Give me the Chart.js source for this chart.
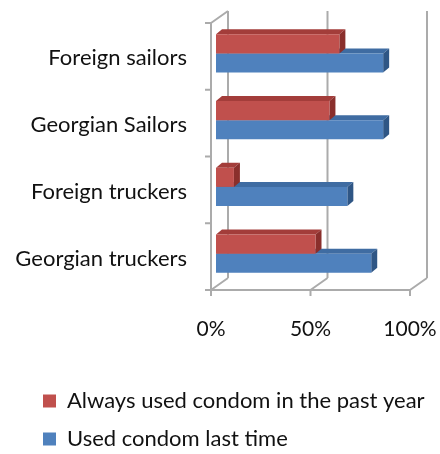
<!DOCTYPE html>
<html>
<head>
<meta charset="utf-8">
<script src="https://cdn.jsdelivr.net/npm/chart.js"></script>
<style>
  html, body { margin: 0; padding: 0; background: #fff; }
  #wrap { width: 440px; height: 454px; }
</style>
</head>
<body>
<div id="wrap"><canvas id="myChart" width="440" height="454"></canvas></div>
<script>
// data
var groups = ['Foreign sailors', 'Georgian Sailors', 'Foreign truckers', 'Georgian truckers'];
var alwaysUsed = [62, 57, 9, 50];
var usedLastTime = [84, 84, 66, 78];
var seriesNames = ['Always used condom in the past year', 'Used condom last time'];
var xTicks = [0, 50, 100];

var colors = ['#C0504D', '#4F81BD'];
var faceColors = [
  {top: '#a33d3a', side: '#8a2f2c'},
  {top: '#3f6ca2', side: '#2f5685'}
];
var depth = {dx: 17, dy: -12};     // back wall offset
var barShift = {dx: 5, dy: -3};    // bars sit a bit behind the front plane
var barDepth = {dx: 6, dy: -5};    // thickness of the bars
var fontName = 'Lato, "Open Sans", sans-serif';

// fake 3D box + bar faces, Excel style
var box3d = {
  id: 'box3d',
  afterLayout: function(chart) {
    // long category label would get clipped at the layout padding otherwise
    chart.scales.y.left = 0;
  },
  beforeDatasetsDraw: function(chart) {
    var ctx = chart.ctx, xs = chart.scales.x, ys = chart.scales.y, a = chart.chartArea;
    ctx.save();
    ctx.strokeStyle = '#ababab';
    ctx.lineWidth = 2;
    ctx.beginPath();
    xTicks.forEach(function(v) {
      var px = xs.getPixelForValue(v);
      ctx.moveTo(px + depth.dx, a.top + depth.dy);
      ctx.lineTo(px + depth.dx, a.bottom + depth.dy);
      ctx.moveTo(px, a.bottom);
      ctx.lineTo(px + depth.dx, a.bottom + depth.dy);
      ctx.moveTo(px, a.bottom);
      ctx.lineTo(px, a.bottom + 6);
    });
    ctx.moveTo(a.left, a.top);
    ctx.lineTo(a.left + depth.dx, a.top + depth.dy);
    ctx.moveTo(a.left, a.top);
    ctx.lineTo(a.left, a.bottom);
    ctx.lineTo(a.right, a.bottom);
    for (var i = 0; i <= groups.length; i++) {
      var py = ys.getPixelForValue(i - 0.5);
      ctx.moveTo(a.left - 6, py);
      ctx.lineTo(a.left, py);
    }
    ctx.stroke();
    ctx.restore();

    ctx.save();
    ctx.translate(barShift.dx, barShift.dy);
    for (var d = chart.data.datasets.length - 1; d >= 0; d--) {
      chart.getDatasetMeta(d).data.forEach(function(bar) {
        var p = bar.getProps(['x', 'y', 'base', 'height'], true);
        var top = p.y - p.height / 2, bot = p.y + p.height / 2;
        ctx.fillStyle = faceColors[d].top;
        ctx.beginPath();
        ctx.moveTo(p.base, top);
        ctx.lineTo(p.x, top);
        ctx.lineTo(p.x + barDepth.dx, top + barDepth.dy);
        ctx.lineTo(p.base + barDepth.dx, top + barDepth.dy);
        ctx.closePath();
        ctx.fill();
        ctx.fillStyle = faceColors[d].side;
        ctx.beginPath();
        ctx.moveTo(p.x, top);
        ctx.lineTo(p.x + barDepth.dx, top + barDepth.dy);
        ctx.lineTo(p.x + barDepth.dx, bot + barDepth.dy);
        ctx.lineTo(p.x, bot);
        ctx.closePath();
        ctx.fill();
      });
    }
    // stays translated while chart.js draws the front faces
  },
  afterDatasetsDraw: function(chart) {
    chart.ctx.restore();
  }
};

var ctx = document.getElementById('myChart');
new Chart(ctx, {
  type: 'bar',
  data: {
    labels: groups,
    datasets: [{
      label: seriesNames[0],
      data: alwaysUsed,
      backgroundColor: colors[0],
      borderColor: colors[0],
      borderWidth: 0
    }, {
      label: seriesNames[1],
      data: usedLastTime,
      backgroundColor: colors[1],
      borderColor: colors[1],
      borderWidth: 0
    }]
  },
  options: {
    indexAxis: 'y',
    responsive: false,
    animation: false,
    categoryPercentage: 0.57,
    barPercentage: 1,
    layout: { padding: { left: 27, top: 23, right: 0, bottom: 0 } },
    scales: {
      x: {
        min: 0,
        max: 100,
        grid: { display: false, drawTicks: false },
        border: { display: false },
        afterBuildTicks: function(scale) {
          scale.ticks = xTicks.map(function(v) { return {value: v}; });
        },
        afterFit: function(scale) {
          scale.height = 84;
          scale.paddingRight = 30;
        },
        ticks: {
          padding: 27,
          color: '#111',
          font: { family: fontName, size: 21 },
          callback: function(v) { return v + '%'; }
        }
      },
      y: {
        grid: { display: false, drawTicks: false },
        border: { display: false },
        afterFit: function(scale) {
          scale.width = 184;
          scale.paddingTop = 0;
          scale.paddingBottom = 0;
        },
        ticks: {
          padding: 24,
          labelOffset: 2,
          color: '#111',
          font: { family: fontName, size: 22 }
        }
      }
    },
    plugins: {
      tooltip: { enabled: false },
      legend: {
        position: 'bottom',
        align: 'start',
        maxHeight: 80,
        labels: {
          boxWidth: 13,
          boxHeight: 13,
          padding: 16,
          color: '#111',
          font: { family: fontName, size: 22 }
        }
      }
    }
  },
  plugins: [box3d]
});
</script>
</body>
</html>
